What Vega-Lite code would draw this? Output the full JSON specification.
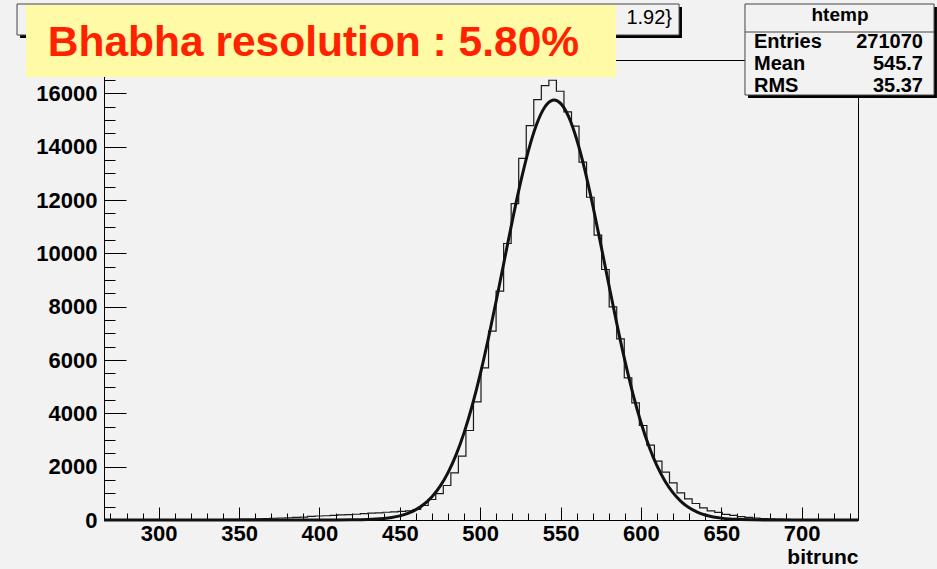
{
  "$schema": "https://vega.github.io/schema/vega-lite/v6.json",
  "width": 754,
  "height": 460,
  "autosize": {"type": "none"},
  "padding": {"left": 104, "top": 60, "right": 79, "bottom": 49},
  "background": "#f2f2f2",
  "config": {
    "view": {"stroke": "#000000", "strokeWidth": 1, "fill": "#f2f2f2"},
    "axis": {"domainColor": "#000000", "tickColor": "#000000", "labelColor": "#000000", "labelFont": "Liberation Sans", "labelFontWeight": "bold", "titleFont": "Liberation Sans", "titleColor": "#000000", "grid": false, "labelOverlap": false, "labelFlush": false, "labelBound": false},
    "axisX": {"labelOverlap": false},
    "axisY": {"labelOverlap": false}
  },
  "datasets": {
    "hist": [
      {"x": 268.35, "count": 0}, {"x": 273.04, "count": 0}, {"x": 277.73, "count": 0}, {"x": 282.42, "count": 1}, {"x": 287.11, "count": 1},
      {"x": 291.80, "count": 2}, {"x": 296.49, "count": 2}, {"x": 301.18, "count": 3}, {"x": 305.87, "count": 4}, {"x": 310.56, "count": 5},
      {"x": 315.25, "count": 6}, {"x": 319.94, "count": 8}, {"x": 324.63, "count": 10}, {"x": 329.32, "count": 12}, {"x": 334.01, "count": 15},
      {"x": 338.70, "count": 18}, {"x": 343.39, "count": 22}, {"x": 348.08, "count": 27}, {"x": 352.77, "count": 32}, {"x": 357.46, "count": 38},
      {"x": 362.15, "count": 45}, {"x": 366.84, "count": 55}, {"x": 371.53, "count": 65}, {"x": 376.22, "count": 75}, {"x": 380.91, "count": 85},
      {"x": 385.60, "count": 95}, {"x": 390.29, "count": 110}, {"x": 394.98, "count": 135}, {"x": 399.67, "count": 150}, {"x": 404.36, "count": 160},
      {"x": 409.05, "count": 170}, {"x": 413.74, "count": 190}, {"x": 418.43, "count": 200}, {"x": 423.12, "count": 215}, {"x": 427.81, "count": 240},
      {"x": 432.50, "count": 255}, {"x": 437.19, "count": 270}, {"x": 441.88, "count": 290}, {"x": 446.57, "count": 305}, {"x": 451.26, "count": 320},
      {"x": 455.95, "count": 345}, {"x": 460.64, "count": 394}, {"x": 465.33, "count": 543}, {"x": 470.02, "count": 768}, {"x": 474.71, "count": 990},
      {"x": 479.40, "count": 1294}, {"x": 484.09, "count": 1770}, {"x": 488.78, "count": 2393}, {"x": 493.47, "count": 3356}, {"x": 498.16, "count": 4432},
      {"x": 502.85, "count": 5706}, {"x": 507.54, "count": 7080}, {"x": 512.23, "count": 8580}, {"x": 516.92, "count": 10368}, {"x": 521.61, "count": 11867},
      {"x": 526.30, "count": 13560}, {"x": 530.99, "count": 14792}, {"x": 535.68, "count": 15767}, {"x": 540.37, "count": 16292}, {"x": 545.06, "count": 16491},
      {"x": 549.75, "count": 16079}, {"x": 554.44, "count": 15304}, {"x": 559.13, "count": 14767}, {"x": 563.82, "count": 13417}, {"x": 568.51, "count": 12104},
      {"x": 573.20, "count": 10680}, {"x": 577.89, "count": 9393}, {"x": 582.58, "count": 7994}, {"x": 587.27, "count": 6794}, {"x": 591.96, "count": 5332},
      {"x": 596.65, "count": 4394}, {"x": 601.34, "count": 3543}, {"x": 606.03, "count": 2805}, {"x": 610.72, "count": 2205}, {"x": 615.41, "count": 1792},
      {"x": 620.10, "count": 1395}, {"x": 624.79, "count": 1020}, {"x": 629.48, "count": 795}, {"x": 634.17, "count": 619}, {"x": 638.86, "count": 457},
      {"x": 643.55, "count": 340}, {"x": 648.24, "count": 285}, {"x": 652.93, "count": 210}, {"x": 657.62, "count": 170}, {"x": 662.31, "count": 125},
      {"x": 667.00, "count": 100}, {"x": 671.69, "count": 75}, {"x": 676.38, "count": 55}, {"x": 681.07, "count": 40}, {"x": 685.76, "count": 30},
      {"x": 690.45, "count": 22}, {"x": 695.14, "count": 15}, {"x": 699.83, "count": 10}, {"x": 704.52, "count": 7}, {"x": 709.21, "count": 5},
      {"x": 713.90, "count": 3}, {"x": 718.59, "count": 2}, {"x": 723.28, "count": 1}, {"x": 727.97, "count": 1}, {"x": 732.66, "count": 0}
    ],
    "fit": [
      {"x": 266, "y": 0}, {"x": 300, "y": 0}, {"x": 350, "y": 0}, {"x": 380, "y": 0}, {"x": 400, "y": 0.4}, {"x": 410, "y": 1.5},
      {"x": 420, "y": 5.5}, {"x": 425, "y": 10}, {"x": 430, "y": 19}, {"x": 435, "y": 33}, {"x": 440, "y": 57}, {"x": 445, "y": 95},
      {"x": 450, "y": 156}, {"x": 455, "y": 249}, {"x": 460, "y": 388}, {"x": 465, "y": 590}, {"x": 470, "y": 874}, {"x": 475, "y": 1262},
      {"x": 480, "y": 1779}, {"x": 485, "y": 2444}, {"x": 490, "y": 3276}, {"x": 495, "y": 4284}, {"x": 500, "y": 5459}, {"x": 505, "y": 6788},
      {"x": 510, "y": 8231}, {"x": 515, "y": 9733}, {"x": 520, "y": 11227}, {"x": 525, "y": 12630}, {"x": 530, "y": 13855}, {"x": 535, "y": 14824},
      {"x": 540, "y": 15469}, {"x": 545, "y": 15742}, {"x": 546, "y": 15750}, {"x": 550, "y": 15624}, {"x": 555, "y": 15125}, {"x": 560, "y": 14277},
      {"x": 565, "y": 13145}, {"x": 570, "y": 11803}, {"x": 575, "y": 10337}, {"x": 580, "y": 8829}, {"x": 585, "y": 7354}, {"x": 590, "y": 5974},
      {"x": 595, "y": 4733}, {"x": 600, "y": 3657}, {"x": 605, "y": 2756}, {"x": 610, "y": 2026}, {"x": 615, "y": 1452}, {"x": 620, "y": 1015},
      {"x": 625, "y": 692}, {"x": 630, "y": 460}, {"x": 635, "y": 298}, {"x": 640, "y": 189}, {"x": 645, "y": 116}, {"x": 650, "y": 70},
      {"x": 655, "y": 41}, {"x": 660, "y": 23.5}, {"x": 670, "y": 7}, {"x": 680, "y": 2}, {"x": 700, "y": 0.1}, {"x": 735, "y": 0}
    ],
    "stats": [
      {"label": "Entries", "value": "271070", "row": 17936},
      {"label": "Mean", "value": "545.7", "row": 17100},
      {"label": "RMS", "value": "35.37", "row": 16275}
    ]
  },
  "layer": [
    {
      "data": {"name": "hist"},
      "mark": {"type": "line", "interpolate": "step", "color": "#1a1a1a", "strokeWidth": 1.2},
      "encoding": {
        "x": {
          "field": "x", "type": "quantitative",
          "scale": {"domain": [266, 735], "nice": false, "zero": false},
          "axis": {
            "title": "bitrunc",
            "titleAnchor": "end", "titleAlign": "right", "titleFontSize": 21, "titleFontWeight": "bold", "titlePadding": -4,
            "values": [270,280,290,300,310,320,330,340,350,360,370,380,390,400,410,420,430,440,450,460,470,480,490,500,510,520,530,540,550,560,570,580,590,600,610,620,630,640,650,660,670,680,690,700,710,720,730],
            "tickCount": 200,
            "labelExpr": "datum.value % 50 === 0 ? datum.label : ''",
            "labelOverlap": false, "labelFlush": false,
            "labelFontSize": 22,
            "tickSize": {"condition": {"test": "datum.value % 50 === 0", "value": -13}, "value": -7},
            "labelPadding": 16
          }
        },
        "y": {
          "field": "count", "type": "quantitative",
          "scale": {"domain": [0, 17250], "nice": false, "zero": true},
          "axis": {
            "title": null,
            "values": [0,500,1000,1500,2000,2500,3000,3500,4000,4500,5000,5500,6000,6500,7000,7500,8000,8500,9000,9500,10000,10500,11000,11500,12000,12500,13000,13500,14000,14500,15000,15500,16000,16500,17000],
            "tickCount": 200,
            "labelExpr": "datum.value % 2000 === 0 ? datum.label : ''",
            "format": "d",
            "labelOverlap": false, "labelFlush": false,
            "labelFontSize": 22,
            "tickSize": {"condition": {"test": "datum.value % 2000 === 0", "value": -22}, "value": -11},
            "labelPadding": 29
          }
        }
      }
    },
    {
      "data": {"name": "fit"},
      "mark": {"type": "line", "interpolate": "monotone", "color": "#111111", "strokeWidth": 3},
      "encoding": {
        "x": {"field": "x", "type": "quantitative"},
        "y": {"field": "y", "type": "quantitative"}
      }
    },
    {
      "data": {"values": [{}]},
      "mark": {"type": "rect", "fill": "#000000"},
      "encoding": {
        "x": {"datum": 213.8, "type": "quantitative"}, "x2": {"datum": 625.5},
        "y": {"datum": 19237, "type": "quantitative"}, "y2": {"datum": 18075}
      }
    },
    {
      "data": {"values": [{}]},
      "mark": {"type": "rect", "fill": "#f2f2f2", "stroke": "#444444", "strokeWidth": 1},
      "encoding": {
        "x": {"datum": 211.9, "type": "quantitative"}, "x2": {"datum": 623.7},
        "y": {"datum": 19350, "type": "quantitative"}, "y2": {"datum": 18187}
      }
    },
    {
      "data": {"values": [{}]},
      "mark": {"type": "text", "text": "1.92}", "align": "right", "baseline": "middle", "font": "Liberation Sans", "fontSize": 20, "color": "#000000"},
      "encoding": {
        "x": {"datum": 619.3, "type": "quantitative"},
        "y": {"datum": 18814, "type": "quantitative"}
      }
    },
    {
      "data": {"values": [{}]},
      "mark": {"type": "rect", "fill": "#fffaa6"},
      "encoding": {
        "x": {"datum": 217.5, "type": "quantitative"}, "x2": {"datum": 584.5},
        "y": {"datum": 19312, "type": "quantitative"}, "y2": {"datum": 16612}
      }
    },
    {
      "data": {"values": [{}]},
      "mark": {"type": "text", "text": "Bhabha resolution : 5.80%", "align": "left", "baseline": "alphabetic", "font": "Liberation Sans", "fontWeight": "bold", "fontSize": 42.5, "color": "#ff2200"},
      "encoding": {
        "x": {"datum": 231.0, "type": "quantitative"},
        "y": {"datum": 17400, "type": "quantitative"}
      }
    },
    {
      "data": {"values": [{}]},
      "mark": {"type": "rect", "fill": "#000000"},
      "encoding": {
        "x": {"datum": 666.6, "type": "quantitative"}, "x2": {"datum": 784.1},
        "y": {"datum": 19237, "type": "quantitative"}, "y2": {"datum": 15825}
      }
    },
    {
      "data": {"values": [{}]},
      "mark": {"type": "rect", "fill": "#f2f2f2", "stroke": "#444444", "strokeWidth": 1},
      "encoding": {
        "x": {"datum": 664.7, "type": "quantitative"}, "x2": {"datum": 782.3},
        "y": {"datum": 19350, "type": "quantitative"}, "y2": {"datum": 15937}
      }
    },
    {
      "data": {"values": [{}]},
      "mark": {"type": "rule", "color": "#444444", "strokeWidth": 1},
      "encoding": {
        "x": {"datum": 664.7, "type": "quantitative"}, "x2": {"datum": 782.3},
        "y": {"datum": 18300, "type": "quantitative"}
      }
    },
    {
      "data": {"values": [{}]},
      "mark": {"type": "text", "text": "htemp", "align": "center", "baseline": "middle", "font": "Liberation Sans", "fontWeight": "bold", "fontSize": 19, "color": "#000000"},
      "encoding": {
        "x": {"datum": 723.8, "type": "quantitative"},
        "y": {"datum": 18937, "type": "quantitative"}
      }
    },
    {
      "data": {"name": "stats"},
      "mark": {"type": "text", "align": "left", "baseline": "middle", "font": "Liberation Sans", "fontWeight": "bold", "fontSize": 20, "color": "#000000"},
      "encoding": {
        "x": {"datum": 670.3, "type": "quantitative"},
        "y": {"field": "row", "type": "quantitative"},
        "text": {"field": "label"}
      }
    },
    {
      "data": {"name": "stats"},
      "mark": {"type": "text", "align": "right", "baseline": "middle", "font": "Liberation Sans", "fontWeight": "bold", "fontSize": 20, "color": "#000000"},
      "encoding": {
        "x": {"datum": 775.4, "type": "quantitative"},
        "y": {"field": "row", "type": "quantitative"},
        "text": {"field": "value"}
      }
    }
  ]
}
